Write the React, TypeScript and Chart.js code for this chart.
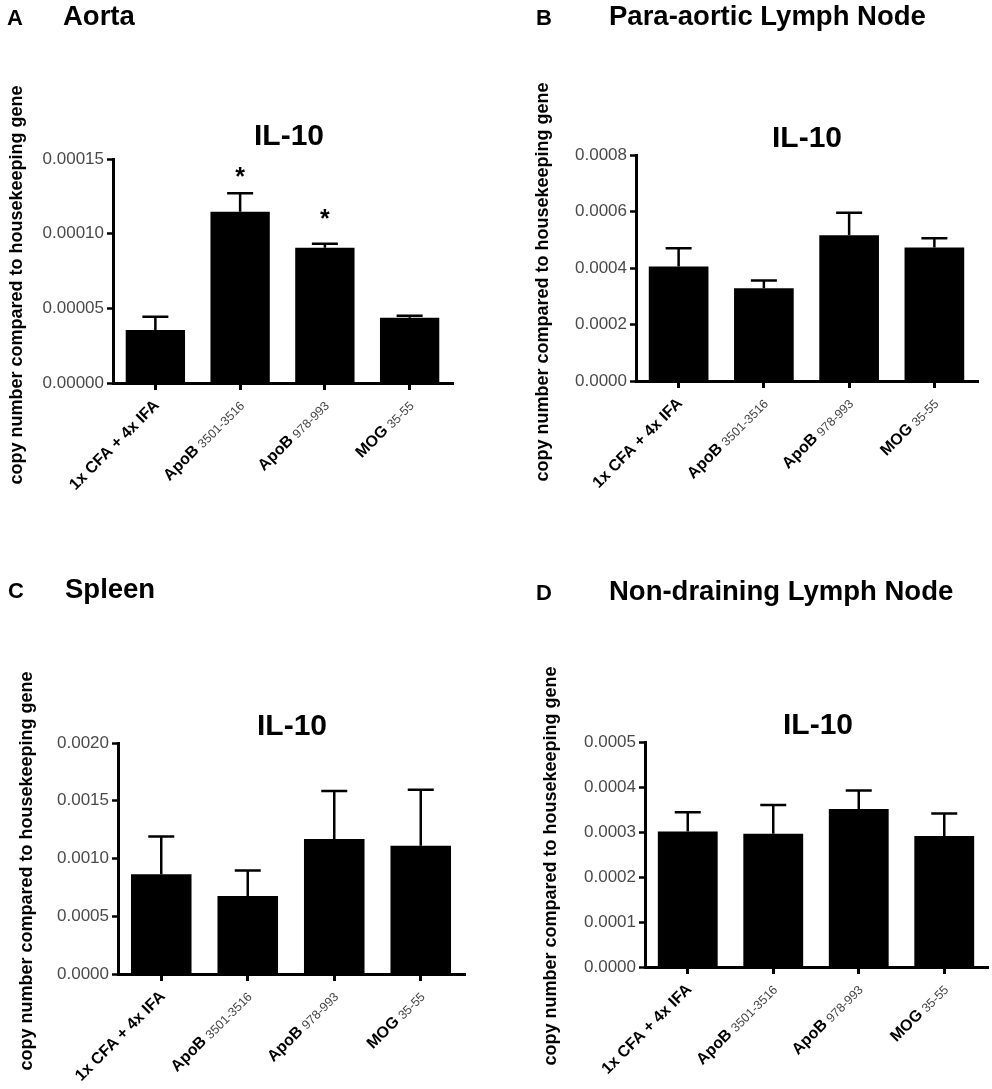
import React, { useEffect, useRef } from "react";
import { Chart, registerables } from "chart.js";

Chart.register(...registerables);

const FONT = '"Liberation Sans", Arial, Helvetica, sans-serif';

// ---- data ----
const categories = ["1x CFA + 4x IFA", "ApoB", "ApoB", "MOG"];
const categorySubs = ["", "3501-3516", "978-993", "35-55"];

const aortaMean = [0.0000355, 0.0001147, 0.0000906, 0.0000437];
const aortaSem = [0.0000089, 0.0000123, 0.0000027, 0.0000014];
const aortaTicks = ["0.00000", "0.00005", "0.00010", "0.00015"];
const aortaStars = ["", "*", "*", ""];
const aortaStarLevels = [null, 0.0001408, 0.0001125, null];

const paraMean = [0.000405, 0.000328, 0.000516, 0.000473];
const paraSem = [0.000065, 0.000028, 0.00008, 0.000032];
const paraTicks = ["0.0000", "0.0002", "0.0004", "0.0006", "0.0008"];

const spleenMean = [0.000864, 0.000676, 0.001168, 0.00111];
const spleenSem = [0.000326, 0.00022, 0.000416, 0.000485];
const spleenTicks = ["0.0000", "0.0005", "0.0010", "0.0015", "0.0020"];

const nonDrainMean = [0.000301, 0.000296, 0.000351, 0.000291];
const nonDrainSem = [0.000043, 0.000064, 0.000041, 0.00005];
const nonDrainTicks = ["0.0000", "0.0001", "0.0002", "0.0003", "0.0004", "0.0005"];

const noStars = ["", "", "", ""];
const noStarLevels = [null, null, null, null];

const chartTitle = "IL-10";
const yAxisTitle = "copy number compared to housekeeping gene";

type PanelCfg = {
  letter: string;
  title: string;
  mean: number[];
  sem: number[];
  ticks: string[];
  stars: string[];
  starLevels: (number | null)[];
  canvas: { x: number; y: number; w: number; h: number };
  plot: { left: number; right: number; top: number; bottom: number };
  letterPos: [number, number];
  titlePos: [number, number];
  il10Pos: [number, number];
  yTitlePos: [number, number];
};

const panels: PanelCfg[] = [
  {
    letter: "A", title: "Aorta", mean: aortaMean, sem: aortaSem, ticks: aortaTicks,
    stars: aortaStars, starLevels: aortaStarLevels,
    canvas: { x: 0, y: 0, w: 496, h: 545 },
    plot: { left: 113, right: 452, top: 159, bottom: 383 },
    letterPos: [7, 25], titlePos: [63, 25], il10Pos: [289, 145], yTitlePos: [17, 285],
  },
  {
    letter: "B", title: "Para-aortic Lymph Node", mean: paraMean, sem: paraSem, ticks: paraTicks,
    stars: noStars, starLevels: noStarLevels,
    canvas: { x: 496, y: 0, w: 496, h: 545 },
    plot: { left: 636, right: 977, top: 155, bottom: 381 },
    letterPos: [536, 25], titlePos: [609, 25], il10Pos: [807, 147], yTitlePos: [543, 282],
  },
  {
    letter: "C", title: "Spleen", mean: spleenMean, sem: spleenSem, ticks: spleenTicks,
    stars: noStars, starLevels: noStarLevels,
    canvas: { x: 0, y: 545, w: 496, h: 544 },
    plot: { left: 118, right: 464, top: 743, bottom: 974 },
    letterPos: [8, 598], titlePos: [65, 598], il10Pos: [292, 735], yTitlePos: [27, 871],
  },
  {
    letter: "D", title: "Non-draining Lymph Node", mean: nonDrainMean, sem: nonDrainSem, ticks: nonDrainTicks,
    stars: noStars, starLevels: noStarLevels,
    canvas: { x: 496, y: 545, w: 496, h: 544 },
    plot: { left: 645, right: 987, top: 742, bottom: 967 },
    letterPos: [536, 600], titlePos: [609, 600], il10Pos: [818, 734], yTitlePos: [551, 866],
  },
];

function Panel({ cfg }: { cfg: PanelCfg }) {
  const ref = useRef<HTMLCanvasElement>(null);

  useEffect(() => {
    const canvas = ref.current!;
    const W = cfg.canvas.w;
    const H = cfg.canvas.h;
    const ox = cfg.canvas.x;
    const oy = cfg.canvas.y;
    const rel = {
      left: cfg.plot.left - ox,
      right: cfg.plot.right - ox,
      top: cfg.plot.top - oy,
      bottom: cfg.plot.bottom - oy,
    };
    const tickValues = cfg.ticks.map(Number);

    const decor = {
      id: "decor",
      afterDatasetsDraw(chart: any) {
        const ctx = chart.ctx as CanvasRenderingContext2D;
        const meta = chart.getDatasetMeta(0);
        const ys = chart.scales.y;
        ctx.save();
        ctx.strokeStyle = "#000";
        ctx.lineWidth = 2.5;
        meta.data.forEach((el: any, i: number) => {
          const top = ys.getPixelForValue(cfg.mean[i] + cfg.sem[i]);
          const x = el.x;
          ctx.beginPath();
          ctx.moveTo(x, el.y);
          ctx.lineTo(x, top);
          ctx.moveTo(x - 13, top);
          ctx.lineTo(x + 13, top);
          ctx.stroke();
          const lvl = cfg.starLevels[i];
          if (cfg.stars[i] && lvl !== null) {
            ctx.fillStyle = "#000";
            ctx.font = `bold 25px ${FONT}`;
            ctx.textAlign = "center";
            ctx.textBaseline = "middle";
            ctx.fillText(cfg.stars[i], x, ys.getPixelForValue(lvl) + 5);
          }
        });
        ctx.restore();
      },
      afterDraw(chart: any) {
        const ctx = chart.ctx as CanvasRenderingContext2D;
        const area = chart.chartArea;
        const xs = chart.scales.x;
        ctx.save();
        // panel letter & title
        ctx.fillStyle = "#000";
        ctx.textAlign = "left";
        ctx.textBaseline = "alphabetic";
        ctx.font = `bold 22px ${FONT}`;
        ctx.fillText(cfg.letter, cfg.letterPos[0] - ox, cfg.letterPos[1] - oy);
        ctx.font = `bold 27.5px ${FONT}`;
        ctx.fillText(cfg.title, cfg.titlePos[0] - ox, cfg.titlePos[1] - oy);
        // IL-10
        ctx.textAlign = "center";
        ctx.font = `bold 30px ${FONT}`;
        ctx.fillText(chartTitle, cfg.il10Pos[0] - ox, cfg.il10Pos[1] - oy);
        // y title
        ctx.save();
        ctx.translate(cfg.yTitlePos[0] - ox, cfg.yTitlePos[1] - oy);
        ctx.rotate(-Math.PI / 2);
        ctx.textAlign = "center";
        ctx.textBaseline = "middle";
        ctx.font = `bold 18px ${FONT}`;
        ctx.fillText(yAxisTitle, 0, 0);
        ctx.restore();
        // x labels
        categories.forEach((main, i) => {
          const x = xs.getPixelForTick(i);
          ctx.save();
          ctx.translate(x + 1.5, area.bottom + 20);
          ctx.rotate(-Math.PI / 4);
          ctx.textBaseline = "middle";
          ctx.textAlign = "right";
          let endX = 0;
          const sub = categorySubs[i];
          if (sub) {
            ctx.font = `12.5px ${FONT}`;
            ctx.fillStyle = "#444";
            ctx.fillText(sub, 0, 1.5);
            endX = -ctx.measureText(sub).width - 4;
          }
          ctx.font = `bold 16px ${FONT}`;
          ctx.fillStyle = "#000";
          ctx.fillText(main, endX, 0);
          ctx.restore();
        });
        ctx.restore();
      },
    };

    const chart = new Chart(canvas, {
      type: "bar",
      data: {
        labels: categories.map((m, i) => (categorySubs[i] ? `${m} ${categorySubs[i]}` : m)),
        datasets: [
          {
            data: cfg.mean,
            backgroundColor: "#000",
            borderWidth: 0,
            barPercentage: 0.7,
            categoryPercentage: 1,
          },
        ],
      },
      options: {
        responsive: false,
        animation: false,
        devicePixelRatio: 1,
        layout: { padding: { top: rel.top, left: 0, right: W - rel.right, bottom: 0 } },
        plugins: {
          legend: { display: false },
          tooltip: { enabled: false },
          title: { display: false },
        },
        scales: {
          x: {
            type: "category",
            offset: true,
            grid: {
              offset: false,
              drawOnChartArea: false,
              drawTicks: true,
              tickLength: 7,
              tickWidth: 3,
              tickColor: "#000",
              color: "#000",
              lineWidth: 3,
            },
            border: { display: true, color: "#000", width: 3 },
            ticks: { display: false, autoSkip: false },
            afterFit: (s: any) => {
              s.height = H - rel.bottom;
            },
          },
          y: {
            type: "linear",
            min: tickValues[0],
            max: tickValues[tickValues.length - 1],
            grid: {
              drawOnChartArea: false,
              drawTicks: true,
              tickLength: 6,
              tickWidth: 2.5,
              tickColor: "#000",
            },
            border: { display: true, color: "#000", width: 3 },
            ticks: {
              font: { family: FONT, size: 17 },
              color: "#4a4a4a",
              padding: 3,
              callback: (v: any) => {
                const s = cfg.ticks.find((t) => Math.abs(Number(t) - Number(v)) < 1e-12);
                return s ?? "";
              },
            },
            afterBuildTicks: (s: any) => {
              s.ticks = tickValues.map((v) => ({ value: v }));
            },
            afterFit: (s: any) => {
              s.width = rel.left;
            },
          },
        },
      } as any,
      plugins: [decor],
    });
    return () => chart.destroy();
  }, [cfg]);

  return (
    <canvas
      ref={ref}
      width={cfg.canvas.w}
      height={cfg.canvas.h}
      style={{
        position: "absolute",
        left: cfg.canvas.x,
        top: cfg.canvas.y,
        width: cfg.canvas.w,
        height: cfg.canvas.h,
      }}
    />
  );
}

export default function App() {
  return (
    <div
      style={{
        position: "absolute",
        left: 0,
        top: 0,
        width: 992,
        height: 1089,
        background: "#fff",
        overflow: "hidden",
      }}
    >
      {panels.map((p) => (
        <Panel key={p.letter} cfg={p} />
      ))}
    </div>
  );
}
